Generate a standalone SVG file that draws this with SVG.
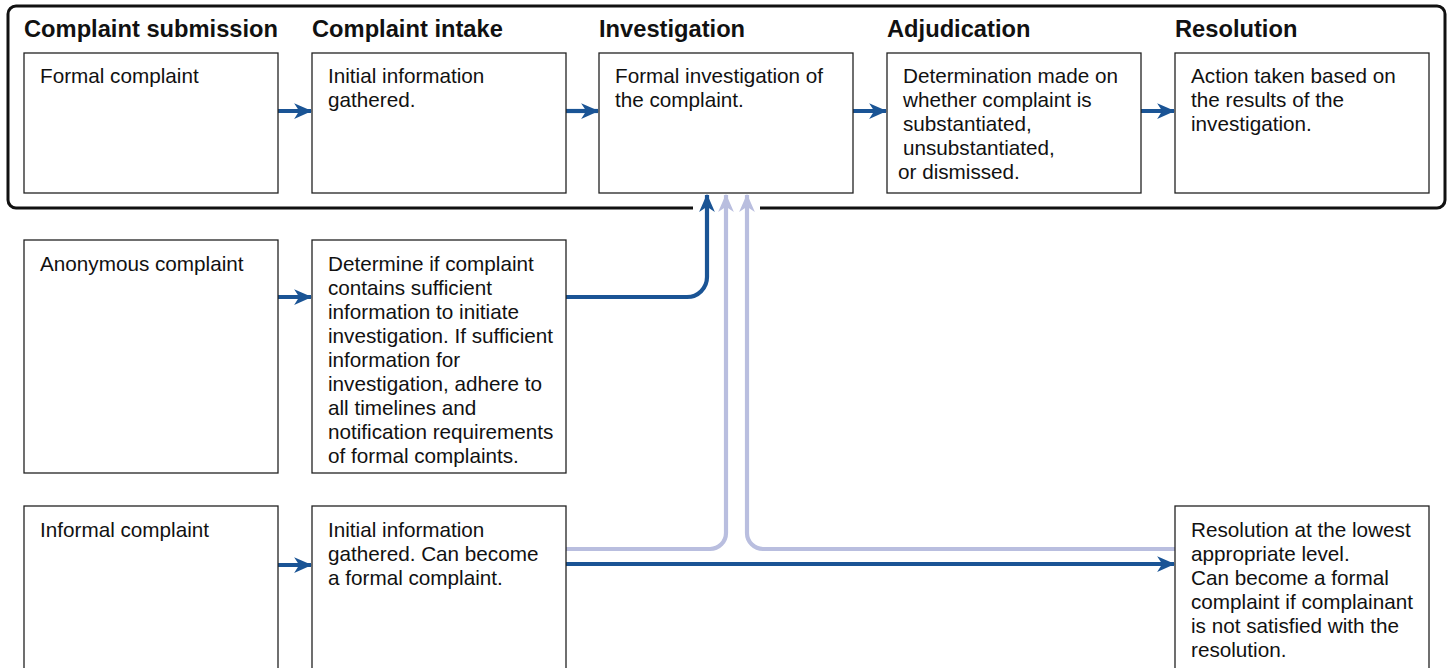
<svg xmlns="http://www.w3.org/2000/svg" width="1450" height="668" viewBox="0 0 1450 668">
<style>
.box{fill:#fff;stroke:#222;stroke-width:1.3}
.hd{font-family:"Liberation Sans",Arial,sans-serif;font-weight:bold;font-size:23.7px;fill:#111}
.tx{font-family:"Liberation Sans",Arial,sans-serif;font-size:20.7px;fill:#111}
.dk{fill:none;stroke:#1a5495;stroke-width:4.2}
.lt{fill:none;stroke:#b9bedf;stroke-width:4.2}
</style>
<defs>
<marker id="ad" viewBox="0 0 16 14" refX="15" refY="7" markerWidth="18" markerHeight="15.75" orient="auto" markerUnits="userSpaceOnUse"><path d="M0,0 L16,7 L0,14 L4.5,7 Z" fill="#1a5495"/></marker>
<marker id="al" viewBox="0 0 16 14" refX="15" refY="7" markerWidth="18" markerHeight="15.75" orient="auto" markerUnits="userSpaceOnUse"><path d="M0,0 L16,7 L0,14 L4.5,7 Z" fill="#b9bedf"/></marker>
</defs>
<rect x="0" y="0" width="1450" height="668" fill="#fff"/>
<g id="frame">
<path d="M693,208 H16 a8,8 0 0 1 -8,-8 V14 a8,8 0 0 1 8,-8 H1437 a8,8 0 0 1 8,8 V200 a8,8 0 0 1 -8,8 H760" fill="none" stroke="#111" stroke-width="3"/>
<text class="hd" x="24" y="37">Complaint submission</text>
<text class="hd" x="312" y="37">Complaint intake</text>
<text class="hd" x="599" y="37">Investigation</text>
<text class="hd" x="887" y="37">Adjudication</text>
<text class="hd" x="1175" y="37">Resolution</text>
</g>
<g id="connectors">
<line class="dk" x1="278" y1="111" x2="311" y2="111" marker-end="url(#ad)"/>
<line class="dk" x1="566" y1="111" x2="598" y2="111" marker-end="url(#ad)"/>
<line class="dk" x1="853" y1="111" x2="886" y2="111" marker-end="url(#ad)"/>
<line class="dk" x1="1141" y1="111" x2="1174" y2="111" marker-end="url(#ad)"/>
<line class="dk" x1="278" y1="297" x2="311" y2="297" marker-end="url(#ad)"/>
<line class="dk" x1="278" y1="565" x2="311" y2="565" marker-end="url(#ad)"/>
<path class="dk" d="M566,297 H687 a20,20 0 0 0 20,-20 V195" marker-end="url(#ad)"/>
<path class="lt" d="M566,549 H710 a16,16 0 0 0 16,-16 V195" marker-end="url(#al)"/>
<path class="lt" d="M1175,549 H763 a16,16 0 0 1 -16,-16 V195" marker-end="url(#al)"/>
<line class="dk" x1="566" y1="564" x2="1174" y2="564" marker-end="url(#ad)"/>
</g>
<g id="n1"><rect class="box" x="24" y="53" width="254" height="140"/><text class="tx" x="40" y="83">Formal complaint</text></g>
<g id="n2"><rect class="box" x="312" y="53" width="254" height="140"/><text class="tx" x="328" y="83">Initial information<tspan x="328" dy="24">gathered.</tspan></text></g>
<g id="n3"><rect class="box" x="599" y="53" width="254" height="140"/><text class="tx" x="615" y="83">Formal investigation of<tspan x="615" dy="24">the complaint.</tspan></text></g>
<g id="n4"><rect class="box" x="887" y="53" width="254" height="140"/><text class="tx" x="903" y="83">Determination made on<tspan x="903" dy="24">whether complaint is</tspan><tspan x="903" dy="24">substantiated,</tspan><tspan x="903" dy="24">unsubstantiated,</tspan><tspan x="898" dy="24">or dismissed.</tspan></text></g>
<g id="n5"><rect class="box" x="1175" y="53" width="254" height="140"/><text class="tx" x="1191" y="83">Action taken based on<tspan x="1191" dy="24">the results of the</tspan><tspan x="1191" dy="24">investigation.</tspan></text></g>
<g id="n6"><rect class="box" x="24" y="240" width="254" height="233"/><text class="tx" x="40" y="271">Anonymous complaint</text></g>
<g id="n7"><rect class="box" x="312" y="240" width="254" height="233"/><text class="tx" x="328" y="271">Determine if complaint<tspan x="328" dy="24">contains sufficient</tspan><tspan x="328" dy="24">information to initiate</tspan><tspan x="328" dy="24">investigation. If sufficient</tspan><tspan x="328" dy="24">information for</tspan><tspan x="328" dy="24">investigation, adhere to</tspan><tspan x="328" dy="24">all timelines and</tspan><tspan x="328" dy="24">notification requirements</tspan><tspan x="328" dy="24">of formal complaints.</tspan></text></g>
<g id="n8"><rect class="box" x="24" y="506" width="254" height="170"/><text class="tx" x="40" y="537">Informal complaint</text></g>
<g id="n9"><rect class="box" x="312" y="506" width="254" height="170"/><text class="tx" x="328" y="537">Initial information<tspan x="328" dy="24">gathered. Can become</tspan><tspan x="328" dy="24">a formal complaint.</tspan></text></g>
<g id="n10"><rect class="box" x="1175" y="506" width="254" height="170"/><text class="tx" x="1191" y="537">Resolution at the lowest<tspan x="1191" dy="24">appropriate level.</tspan><tspan x="1191" dy="24">Can become a formal</tspan><tspan x="1191" dy="24">complaint if complainant</tspan><tspan x="1191" dy="24">is not satisfied with the</tspan><tspan x="1191" dy="24">resolution.</tspan></text></g>
</svg>
